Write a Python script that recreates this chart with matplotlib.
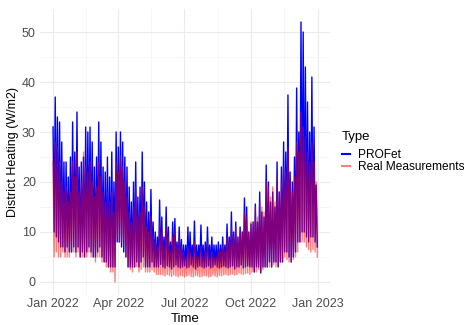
import numpy as np
import pandas as pd
import matplotlib
matplotlib.use("Agg")
import matplotlib.pyplot as plt
import matplotlib.dates as mdates
from matplotlib.lines import Line2D

plt.rcParams['font.family'] = ['Liberation Sans', 'DejaVu Sans']

# district heating, W/m2 -- 3-day blocks from 2022-01-01, upper / lower swing of each block
profet_hi = [31, 37, 33, 32, 28, 24, 24, 21, 25, 32,
             26, 34, 23, 24, 25, 31, 30, 31, 28, 23,
             25, 32, 28, 23, 22, 25, 21, 26, 20, 30,
             27, 30, 28, 25, 23, 19, 16, 20, 24, 17,
             19, 26, 20, 16, 14, 18.5, 12, 10, 9, 16.4,
             13, 9, 15, 11, 8, 12, 12.7, 8, 11, 8.5,
             7.4, 7.4, 11, 10, 7.4, 12.2, 7.4, 7.4, 11.4, 7.4,
             8, 11, 7.4, 9, 7.4, 7.4, 8, 7.4, 9, 7.4,
             11.6, 9, 14, 10, 12, 9, 11, 10, 16.8, 15,
             10, 11.6, 12, 15.6, 12, 18, 14, 13, 23.4, 20,
             16, 18, 15, 24, 18, 23, 28, 26, 37.4, 22,
             20, 25, 38.8, 30, 52, 50, 43, 36, 30, 41,
             31, 19.4]
profet_lo = [10, 9, 8, 7, 7, 6, 7, 6, 6, 7,
             6, 7, 5, 6, 5, 6, 7, 6, 5, 5,
             6, 7, 5, 4, 4, 3, 3, 3, 3, 8,
             8, 7, 6, 5, 3, 3, 3, 3, 4, 3,
             4, 5, 3, 3, 3, 4, 3, 3, 3, 3.5,
             3, 2.8, 3.2, 3, 2.6, 3, 3.4, 3, 2.8, 3,
             3.2, 2.8, 3, 3.4, 3, 2.6, 3, 3.2, 3, 2.8,
             3, 3.2, 2.8, 3, 3.4, 3, 2.8, 3, 3.2, 3,
             2.8, 3, 3.2, 2.6, 3, 3, 3.4, 2.8, 3, 3.2,
             3, 3, 2, 3, 3, 1.8, 3, 3, 3, 4,
             3, 4, 4, 3, 4, 4, 6, 6, 5, 4,
             5, 6, 8, 8, 10, 10, 9, 8, 9, 9,
             8, 7]
real_hi = [24, 28, 27, 24, 20, 18, 19, 16, 18, 24,
           21, 26, 18, 20, 26, 23, 22, 24, 20, 17,
           19, 24, 21, 18, 16, 18, 16, 18, 14, 24,
           22, 25, 23, 20, 17, 14, 12, 15, 19, 13,
           14, 19, 15, 11, 10, 13, 9, 8, 7, 12,
           10, 7, 11, 9, 6, 9, 10, 7, 9, 7,
           6, 5, 7, 6, 5, 8, 5, 5, 7, 5,
           6, 8, 5, 6, 5, 5, 6, 6, 7, 6,
           9, 8, 11, 9, 11, 9, 10, 10, 14, 13,
           10, 12, 12, 15, 13, 16, 15, 14, 20, 19,
           17, 19, 16, 21, 18, 20, 23, 22, 27, 20,
           18, 21, 28, 26, 34, 31, 29, 26, 24, 28,
           24, 20]
real_lo = [5, 6, 5, 5, 6, 5, 5, 5, 6, 6,
           5, 6, 5, 5, 5, 5, 6, 5, 5, 4,
           5, 5, 4, 4, 3, 3, 2, 2, 0, 9,
           8, 8, 7, 5, 3, 2.5, 2, 3, 3, 2,
           2.5, 3, 2, 2, 2, 2.5, 2, 1.5, 1.5, 1.5,
           1.4, 1.2, 1.5, 1.3, 1.1, 1.4, 1.2, 1.0, 1.3, 1.2,
           1.0, 1.2, 1.4, 1.1, 1.0, 1.3, 1.2, 1.0, 1.1, 1.3,
           1.2, 1.0, 1.1, 1.4, 1.2, 1.0, 1.3, 1.2, 1.4, 1.5,
           1.3, 1.5, 1.6, 1.4, 1.5, 1.8, 1.6, 1.5, 1.7, 1.8,
           1.5, 2, 2, 2, 2.5, 2, 2.5, 3, 3, 3,
           3, 3.5, 3, 3.5, 4, 4, 5, 4.5, 4, 4,
           4.5, 5, 6, 8, 8, 8, 7, 6.5, 6, 6.5,
           6, 5]

series = ['PROFet', 'Real Measurements']
colors = ['#0000FF', '#FF0000']
alphas = [1.0, 0.5]


def swing(hi, lo):
    # each block: upper value then lower value, 36 h apart
    vals = np.column_stack([hi, lo]).ravel()
    t = pd.date_range('2022-01-01', periods=len(vals), freq='36h')
    return t, vals


fig = plt.figure(figsize=(4.71, 3.25), dpi=100)
ax = fig.add_axes([40 / 471, 30 / 325, 290 / 471, 286 / 325])

for (hi, lo), col, a in zip([(profet_hi, profet_lo), (real_hi, real_lo)], colors, alphas):
    t, v = swing(hi, lo)
    ax.plot(t, v, color=col, alpha=a, linewidth=1.0)

ax.set_xlim(pd.Timestamp('2021-12-14'), pd.Timestamp('2023-01-18'))
ax.set_ylim(-2.6, 54.6)

major_x = pd.to_datetime(['2022-01-01', '2022-04-01', '2022-07-01', '2022-10-01', '2023-01-01'])
minor_x = pd.to_datetime(['2022-02-15', '2022-05-16', '2022-08-16', '2022-11-16'])
ax.set_xticks(major_x)
ax.set_xticks(minor_x, minor=True)
ax.xaxis.set_major_formatter(mdates.DateFormatter('%b %Y'))
ax.set_yticks([0, 10, 20, 30, 40, 50])
ax.set_yticks([5, 15, 25, 35, 45], minor=True)

ax.grid(which='major', color='#EBEBEB', linewidth=0.8)
ax.grid(which='minor', color='#F3F3F3', linewidth=0.5)
ax.set_axisbelow(True)
for s in ax.spines.values():
    s.set_visible(False)
ax.tick_params(which='both', length=0)
ax.tick_params(axis='both', labelsize=9, labelcolor='#4D4D4D')
ax.tick_params(axis='x', pad=2)
ax.tick_params(axis='y', pad=3)

ax.set_xlabel('Time', fontsize=9.5, labelpad=2)
ax.set_ylabel('District Heating (W/m2)', fontsize=9, labelpad=2)

# legend: title placed on its own, keys below it
fig.text(342 / 471, 1 - 137 / 325, 'Type', fontsize=9.5, va='center', ha='left')
handles = [Line2D([], [], color=c, alpha=a, linewidth=1.5) for c, a in zip(colors, alphas)]
fig.legend(handles, series, loc='upper left',
           bbox_to_anchor=(342 / 471, 1 - 149 / 325), frameon=False,
           handlelength=0.7, handletextpad=0.6, labelspacing=0.0,
           fontsize=8.6, borderaxespad=0, borderpad=0)

fig.savefig('out.png', dpi=100)
